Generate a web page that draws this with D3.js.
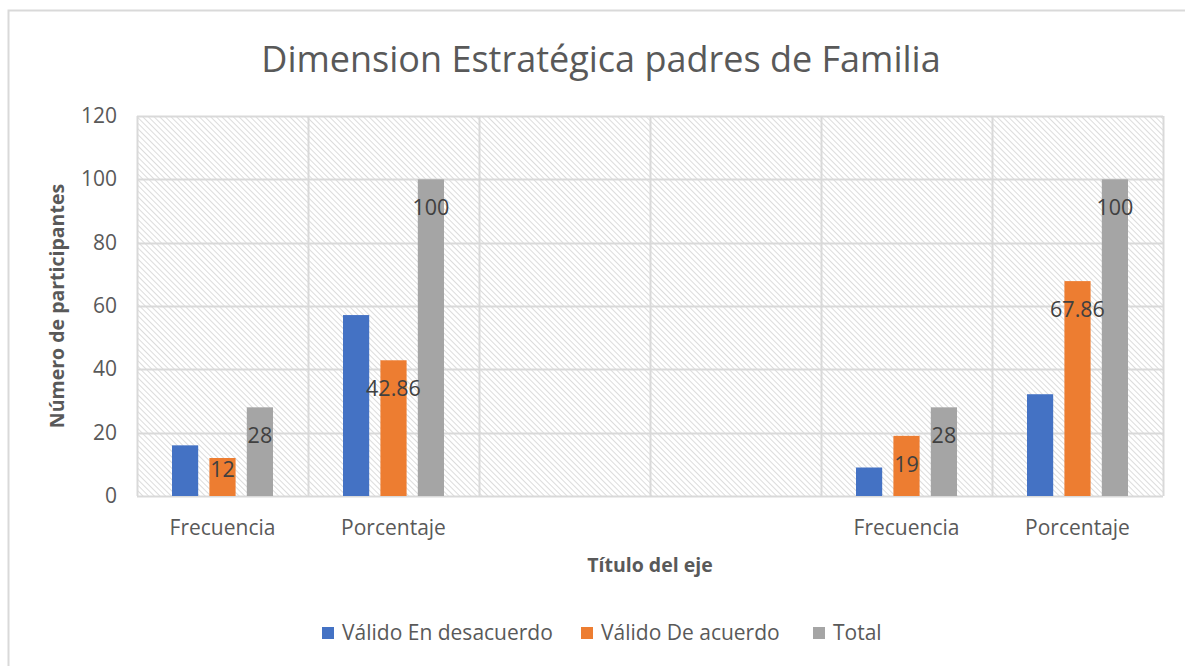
<!DOCTYPE html>
<html>
<head>
<meta charset="utf-8">
<script src="https://cdn.jsdelivr.net/npm/d3@7"></script>
<style>
  body { margin: 0; background: #fff; }
  text { font-family: "Open Sans", Lato, sans-serif; fill: #595959; }
</style>
</head>
<body>
<svg id="chart" width="1185" height="666"></svg>
<script>
const categories = ['Frecuencia', 'Porcentaje', '', ' ', 'Frecuencia ', 'Porcentaje '];
const seriesNames = ['Válido En desacuerdo', 'Válido De acuerdo', 'Total'];
const seriesColors = ['#4472c4', '#ed7d31', '#a5a5a5'];
const desacuerdo = [16, 57.14, null, null, 9, 32.14];
const deAcuerdo = [12, 42.86, null, null, 19, 67.86];
const total = [28, 100, null, null, 28, 100];
const showLabel = [false, true, true]; // which series carry data labels
const yTicks = [0, 20, 40, 60, 80, 100, 120];

const svg = d3.select('#chart');
const margin = { top: 116, right: 22, bottom: 170, left: 137 };
const width = 1185 - margin.left - margin.right;
const height = 666 - margin.top - margin.bottom;

// outer chart border
svg.append('rect')
  .attr('x', 8.5).attr('y', 10.5)
  .attr('width', 1300).attr('height', 800)
  .attr('fill', 'none').attr('stroke', '#d9d9d9').attr('stroke-width', 2);

// hatch pattern for plot area
const defs = svg.append('defs');
const pat = defs.append('pattern')
  .attr('id', 'hatch')
  .attr('patternUnits', 'userSpaceOnUse')
  .attr('width', 4).attr('height', 4)
  .attr('patternTransform', 'rotate(45)');
pat.append('rect').attr('width', 4).attr('height', 4).attr('fill', '#fff');
pat.append('line')
  .attr('x1', 0).attr('y1', 0).attr('x2', 4).attr('y2', 0)
  .attr('stroke', '#dcdcdc').attr('stroke-width', 2);

const g = svg.append('g').attr('transform', `translate(${margin.left},${margin.top})`);

const x = d3.scaleBand().domain(categories).range([0, width]);
const y = d3.scaleLinear().domain([0, 120]).range([height, 0]);
const inner = d3.scaleBand().domain(d3.range(3))
  .range([35, x.bandwidth() - 35]).paddingInner(0.3);

g.append('rect')
  .attr('width', width).attr('height', height)
  .attr('fill', 'url(#hatch)');

// gridlines
g.selectAll('.hgrid')
  .data(yTicks)
  .enter()
  .append('line')
  .attr('class', 'hgrid')
  .attr('x1', 0).attr('x2', width)
  .attr('y1', d => Math.round(y(d)) + 0.5)
  .attr('y2', d => Math.round(y(d)) + 0.5)
  .attr('stroke', '#d9d9d9').attr('stroke-width', 2);

g.selectAll('.vgrid')
  .data(categories.concat(['__end']))
  .enter()
  .append('line')
  .attr('class', 'vgrid')
  .attr('x1', (d, i) => Math.round(i * x.step()) + 0.5)
  .attr('x2', (d, i) => Math.round(i * x.step()) + 0.5)
  .attr('y1', 0).attr('y2', height)
  .attr('stroke', '#d9d9d9').attr('stroke-width', 2);

// bars
const series = [desacuerdo, deAcuerdo, total];
const rows = [];
series.forEach((vals, s) => {
  vals.forEach((v, i) => {
    if (v !== null) rows.push({ s, cat: categories[i], v });
  });
});

g.selectAll('.bar')
  .data(rows)
  .enter()
  .append('rect')
  .attr('class', 'bar')
  .attr('x', d => x(d.cat) + inner(d.s))
  .attr('y', d => y(d.v))
  .attr('width', inner.bandwidth())
  .attr('height', d => height - y(d.v))
  .attr('fill', d => seriesColors[d.s]);

g.selectAll('.lbl')
  .data(rows.filter(d => showLabel[d.s]))
  .enter()
  .append('text')
  .attr('class', 'lbl')
  .attr('x', d => x(d.cat) + inner(d.s) + inner.bandwidth() / 2)
  .attr('y', d => {
    const h = height - y(d.v);
    return y(d.v) + Math.min(28, h - 27) + 8;
  })
  .attr('text-anchor', 'middle')
  .style('font-size', '21.5px')
  .style('fill', '#404040')
  .text(d => d.v);

// y axis labels
g.selectAll('.ytick')
  .data(yTicks)
  .enter()
  .append('text')
  .attr('class', 'ytick')
  .attr('x', -20)
  .attr('y', d => y(d) + 7)
  .attr('text-anchor', 'end')
  .style('font-size', '21px')
  .text(d => d);

// x axis labels
g.selectAll('.xtick')
  .data(categories)
  .enter()
  .append('text')
  .attr('class', 'xtick')
  .attr('x', d => x(d) + x.bandwidth() / 2)
  .attr('y', height + 39)
  .attr('text-anchor', 'middle')
  .style('font-size', '21px')
  .text(d => d.trim());

// titles
svg.append('text')
  .attr('x', 601).attr('y', 72)
  .attr('text-anchor', 'middle')
  .style('font-size', '36px')
  .text('Dimension Estratégica padres de Familia');

svg.append('text')
  .attr('x', 650).attr('y', 572)
  .attr('text-anchor', 'middle')
  .style('font-size', '19.5px').style('font-weight', 'bold')
  .text('Título del eje');

svg.append('text')
  .attr('transform', 'translate(64,306) rotate(-90)')
  .attr('text-anchor', 'middle')
  .style('font-size', '19.5px').style('font-weight', 'bold')
  .text('Número de participantes');

// legend
const legendX = [322, 581, 813];
const leg = svg.selectAll('.leg')
  .data(seriesNames)
  .enter()
  .append('g')
  .attr('class', 'leg')
  .attr('transform', (d, i) => `translate(${legendX[i]},627)`);
leg.append('rect')
  .attr('width', 12).attr('height', 12)
  .attr('fill', (d, i) => seriesColors[i]);
leg.append('text')
  .attr('x', 20).attr('y', 13)
  .style('font-size', '21px')
  .text(d => d);
</script>
</body>
</html>
